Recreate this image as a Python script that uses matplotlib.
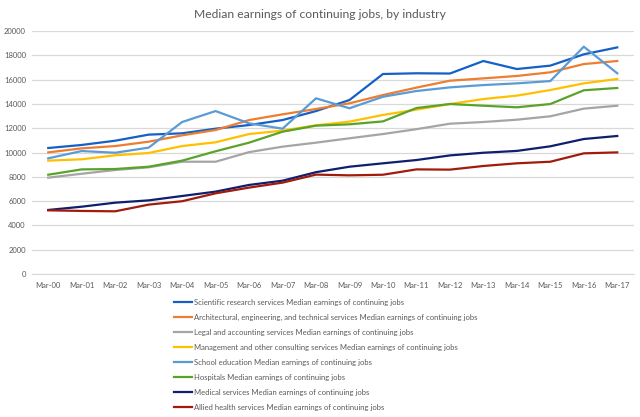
import matplotlib
matplotlib.use("Agg")
import matplotlib.pyplot as plt
import numpy as np

plt.rcParams['font.family'] = ['Lato', 'DejaVu Sans']

# quarters on the x axis
periods = ['Mar-%02d' % y for y in range(0, 18)]

scientific = [10370, 10620, 10970, 11470, 11580, 11960, 12260, 12670, 13410, 14320,
              16460, 16520, 16500, 17530, 16870, 17150, 18080, 18650]
architectural = [10010, 10340, 10530, 10890, 11410, 11850, 12670, 13140, 13580, 14050,
                 14730, 15340, 15910, 16100, 16300, 16600, 17280, 17530]
legal = [7930, 8250, 8560, 8780, 9240, 9240, 10030, 10480, 10810, 11170,
         11520, 11920, 12370, 12510, 12700, 12980, 13610, 13850]
management = [9330, 9440, 9770, 9960, 10530, 10840, 11520, 11800, 12240, 12540,
              13090, 13530, 13990, 14400, 14680, 15140, 15690, 16050]
school = [9520, 10120, 9980, 10400, 12510, 13410, 12400, 11960, 14460, 13640,
          14590, 15060, 15360, 15550, 15690, 15880, 18710, 16520]
hospitals = [8170, 8610, 8640, 8830, 9330, 10100, 10810, 11710, 12210, 12320,
             12560, 13660, 13990, 13850, 13720, 13990, 15120, 15310]
medical = [5270, 5540, 5870, 6060, 6420, 6780, 7330, 7680, 8380, 8830,
           9110, 9380, 9760, 9980, 10130, 10510, 11110, 11360]
allied = [5240, 5190, 5160, 5710, 5990, 6640, 7110, 7520, 8180, 8120,
          8170, 8610, 8590, 8890, 9110, 9240, 9930, 10010]

names = ['Scientific research services', 'Architectural, engineering, and technical services',
         'Legal and accounting services', 'Management and other consulting services',
         'School education', 'Hospitals', 'Medical services', 'Allied health services']
series = [scientific, architectural, legal, management, school, hospitals, medical, allied]
colors = ['#1560C4', '#ED7D31', '#A5A5A5', '#FFC000', '#5B9BD5', '#5AA32B', '#0E1F6E', '#A11B0C']

fig = plt.figure(figsize=(6.4, 4.17), dpi=100)
ax = fig.add_axes([31.5 / 640, 1 - 274 / 417, (634 - 31.5) / 640, (274 - 31) / 417])

x = np.arange(len(periods))
for vals, name, col in zip(series, names, colors):
    ax.plot(x, vals, color=col, lw=1.6, label=name + ' Median earnings of continuing jobs')

ax.set_xlim(-0.5, len(periods) - 0.5)
ax.set_ylim(0, 20000)
ax.set_yticks(np.arange(0, 20001, 2000))
ax.set_xticks(x)
ax.set_xticklabels(periods)
ax.tick_params(axis='both', length=0, labelsize=5.5, labelcolor='#595959')
ax.tick_params(axis='y', pad=4)
ax.tick_params(axis='x', pad=6)
ax.grid(axis='y', color='#D9D9D9', lw=0.9)
ax.set_axisbelow(True)
for s in ['top', 'right', 'left']:
    ax.spines[s].set_visible(False)
ax.spines['bottom'].set_color('#D9D9D9')

fig.text(0.5, 1 - 14 / 417, 'Median earnings of continuing jobs, by industry',
         ha='center', va='center', fontsize=8.7, color='#595959')

leg = fig.legend(loc='upper left', bbox_to_anchor=(174 / 640, 1 - 298.5 / 417),
                 frameon=False, fontsize=5.5, handlelength=2.4, handletextpad=0.2,
                 labelspacing=1.05, borderpad=0, borderaxespad=0)
for t in leg.get_texts():
    t.set_color('#595959')

fig.savefig('out.png', dpi=100)
